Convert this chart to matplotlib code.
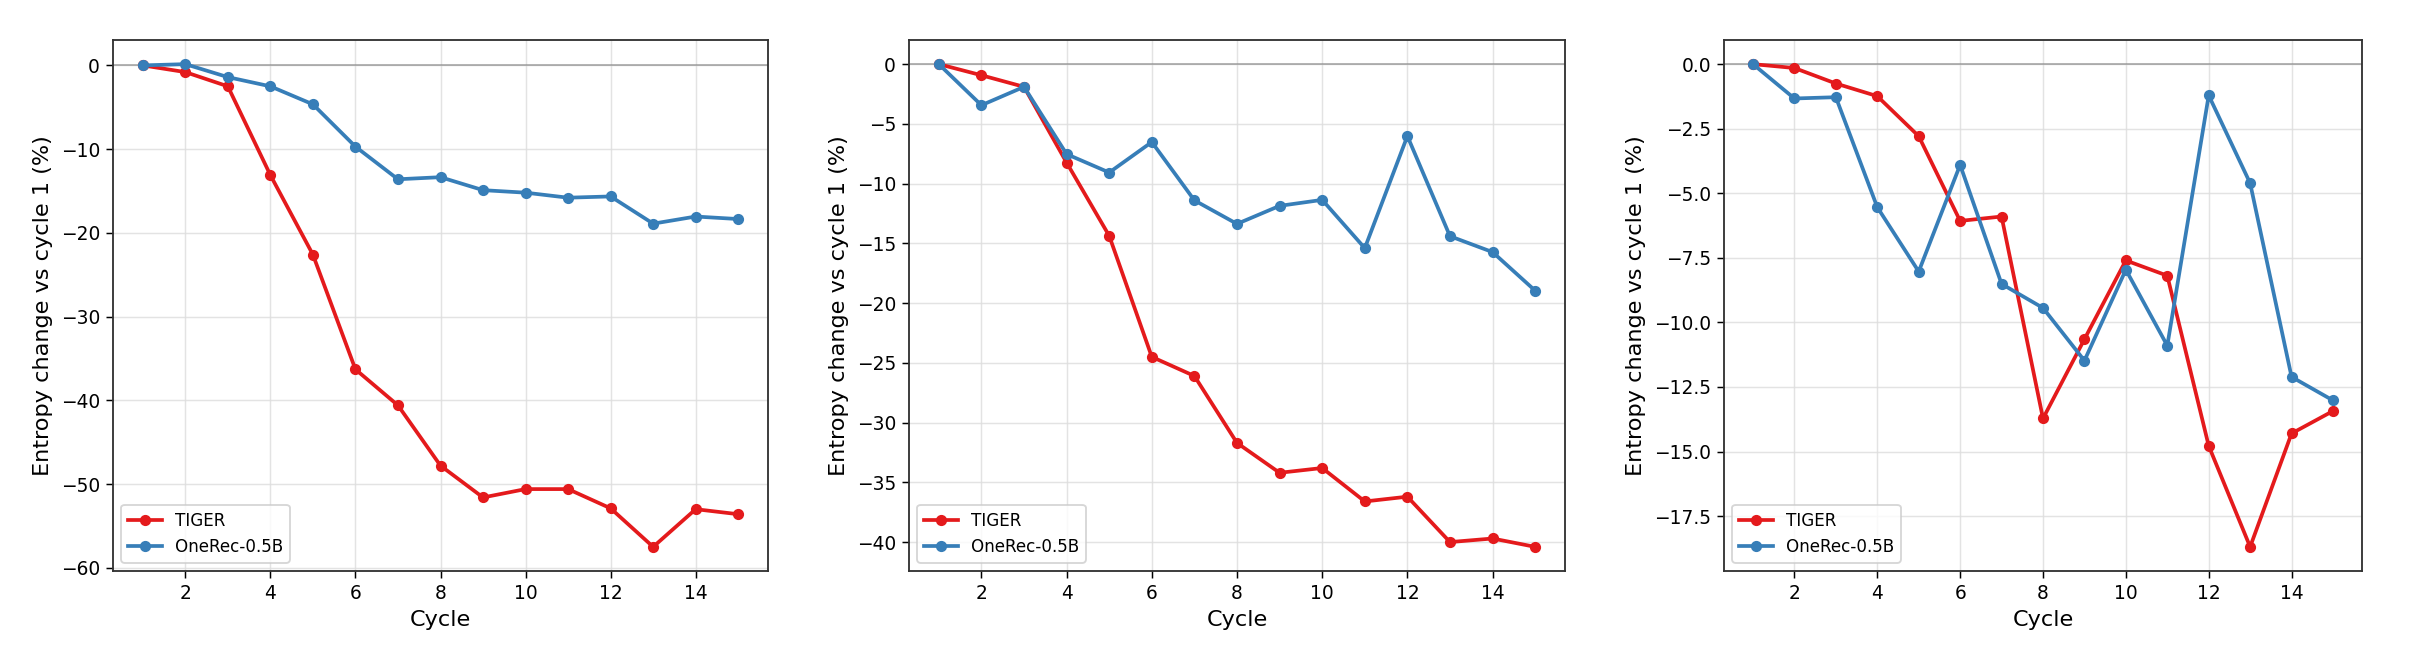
import numpy as np
import matplotlib
matplotlib.use("Agg")
import matplotlib.pyplot as plt

cycles = list(range(1, 16))

# panel 1
tiger_a = [0, -0.8, -2.5, -13.1, -22.6, -36.3, -40.6, -47.8, -51.6, -50.6, -50.6, -52.9, -57.5, -53.0, -53.6]
onerec_a = [0, 0.15, -1.4, -2.5, -4.65, -9.7, -13.6, -13.35, -14.9, -15.2, -15.8, -15.65, -18.9, -18.05, -18.35]

# panel 2
tiger_b = [0, -0.93, -1.9, -8.24, -14.37, -24.5, -26.1, -31.7, -34.2, -33.8, -36.6, -36.2, -40.0, -39.7, -40.4]
onerec_b = [0, -3.44, -1.9, -7.53, -9.07, -6.52, -11.4, -13.37, -11.86, -11.36, -15.4, -6.02, -14.4, -15.73, -18.96]

# panel 3
tiger_c = [0, -0.15, -0.75, -1.24, -2.79, -6.07, -5.9, -13.72, -10.65, -7.6, -8.19, -14.78, -18.69, -14.3, -13.43]
onerec_c = [0, -1.33, -1.28, -5.54, -8.03, -3.9, -8.51, -9.44, -11.48, -7.96, -10.9, -1.21, -4.61, -12.11, -13.02]

series_names = ["TIGER", "OneRec-0.5B"]
colors = ["#e41a1c", "#377eb8"]
panels = [(tiger_a, onerec_a), (tiger_b, onerec_b), (tiger_c, onerec_c)]

W, H = 2412, 672
DPI = 134
fig = plt.figure(figsize=(W / DPI, H / DPI), dpi=DPI)

# axes boxes in pixels: (left, right)
boxes = [(113, 768), (909, 1565), (1724, 2362)]
top, bottom = 40, 571

for (l, r), data in zip(boxes, panels):
    ax = fig.add_axes([l / W, 1 - bottom / H, (r - l) / W, (bottom - top) / H])
    ax.axhline(0, color="gray", lw=1.0, alpha=0.6, zorder=1)
    for vals, name, c in zip(data, series_names, colors):
        ax.plot(cycles, vals, marker="o", ms=5, lw=2, color=c, label=name, zorder=3)
    ax.grid(True, color="#dddddd", lw=0.8, alpha=0.8)
    ax.set_axisbelow(True)
    ax.set_xticks([2, 4, 6, 8, 10, 12, 14])
    ax.tick_params(labelsize=10)
    ax.set_xlabel("Cycle", fontsize=12)
    ax.set_ylabel("Entropy change vs cycle 1 (%)", fontsize=12)
    for s in ax.spines.values():
        s.set_color("#333333")
        s.set_linewidth(1.0)
    ax.legend(loc="lower left", fontsize=9)

fig.savefig("out.png", dpi=DPI)
